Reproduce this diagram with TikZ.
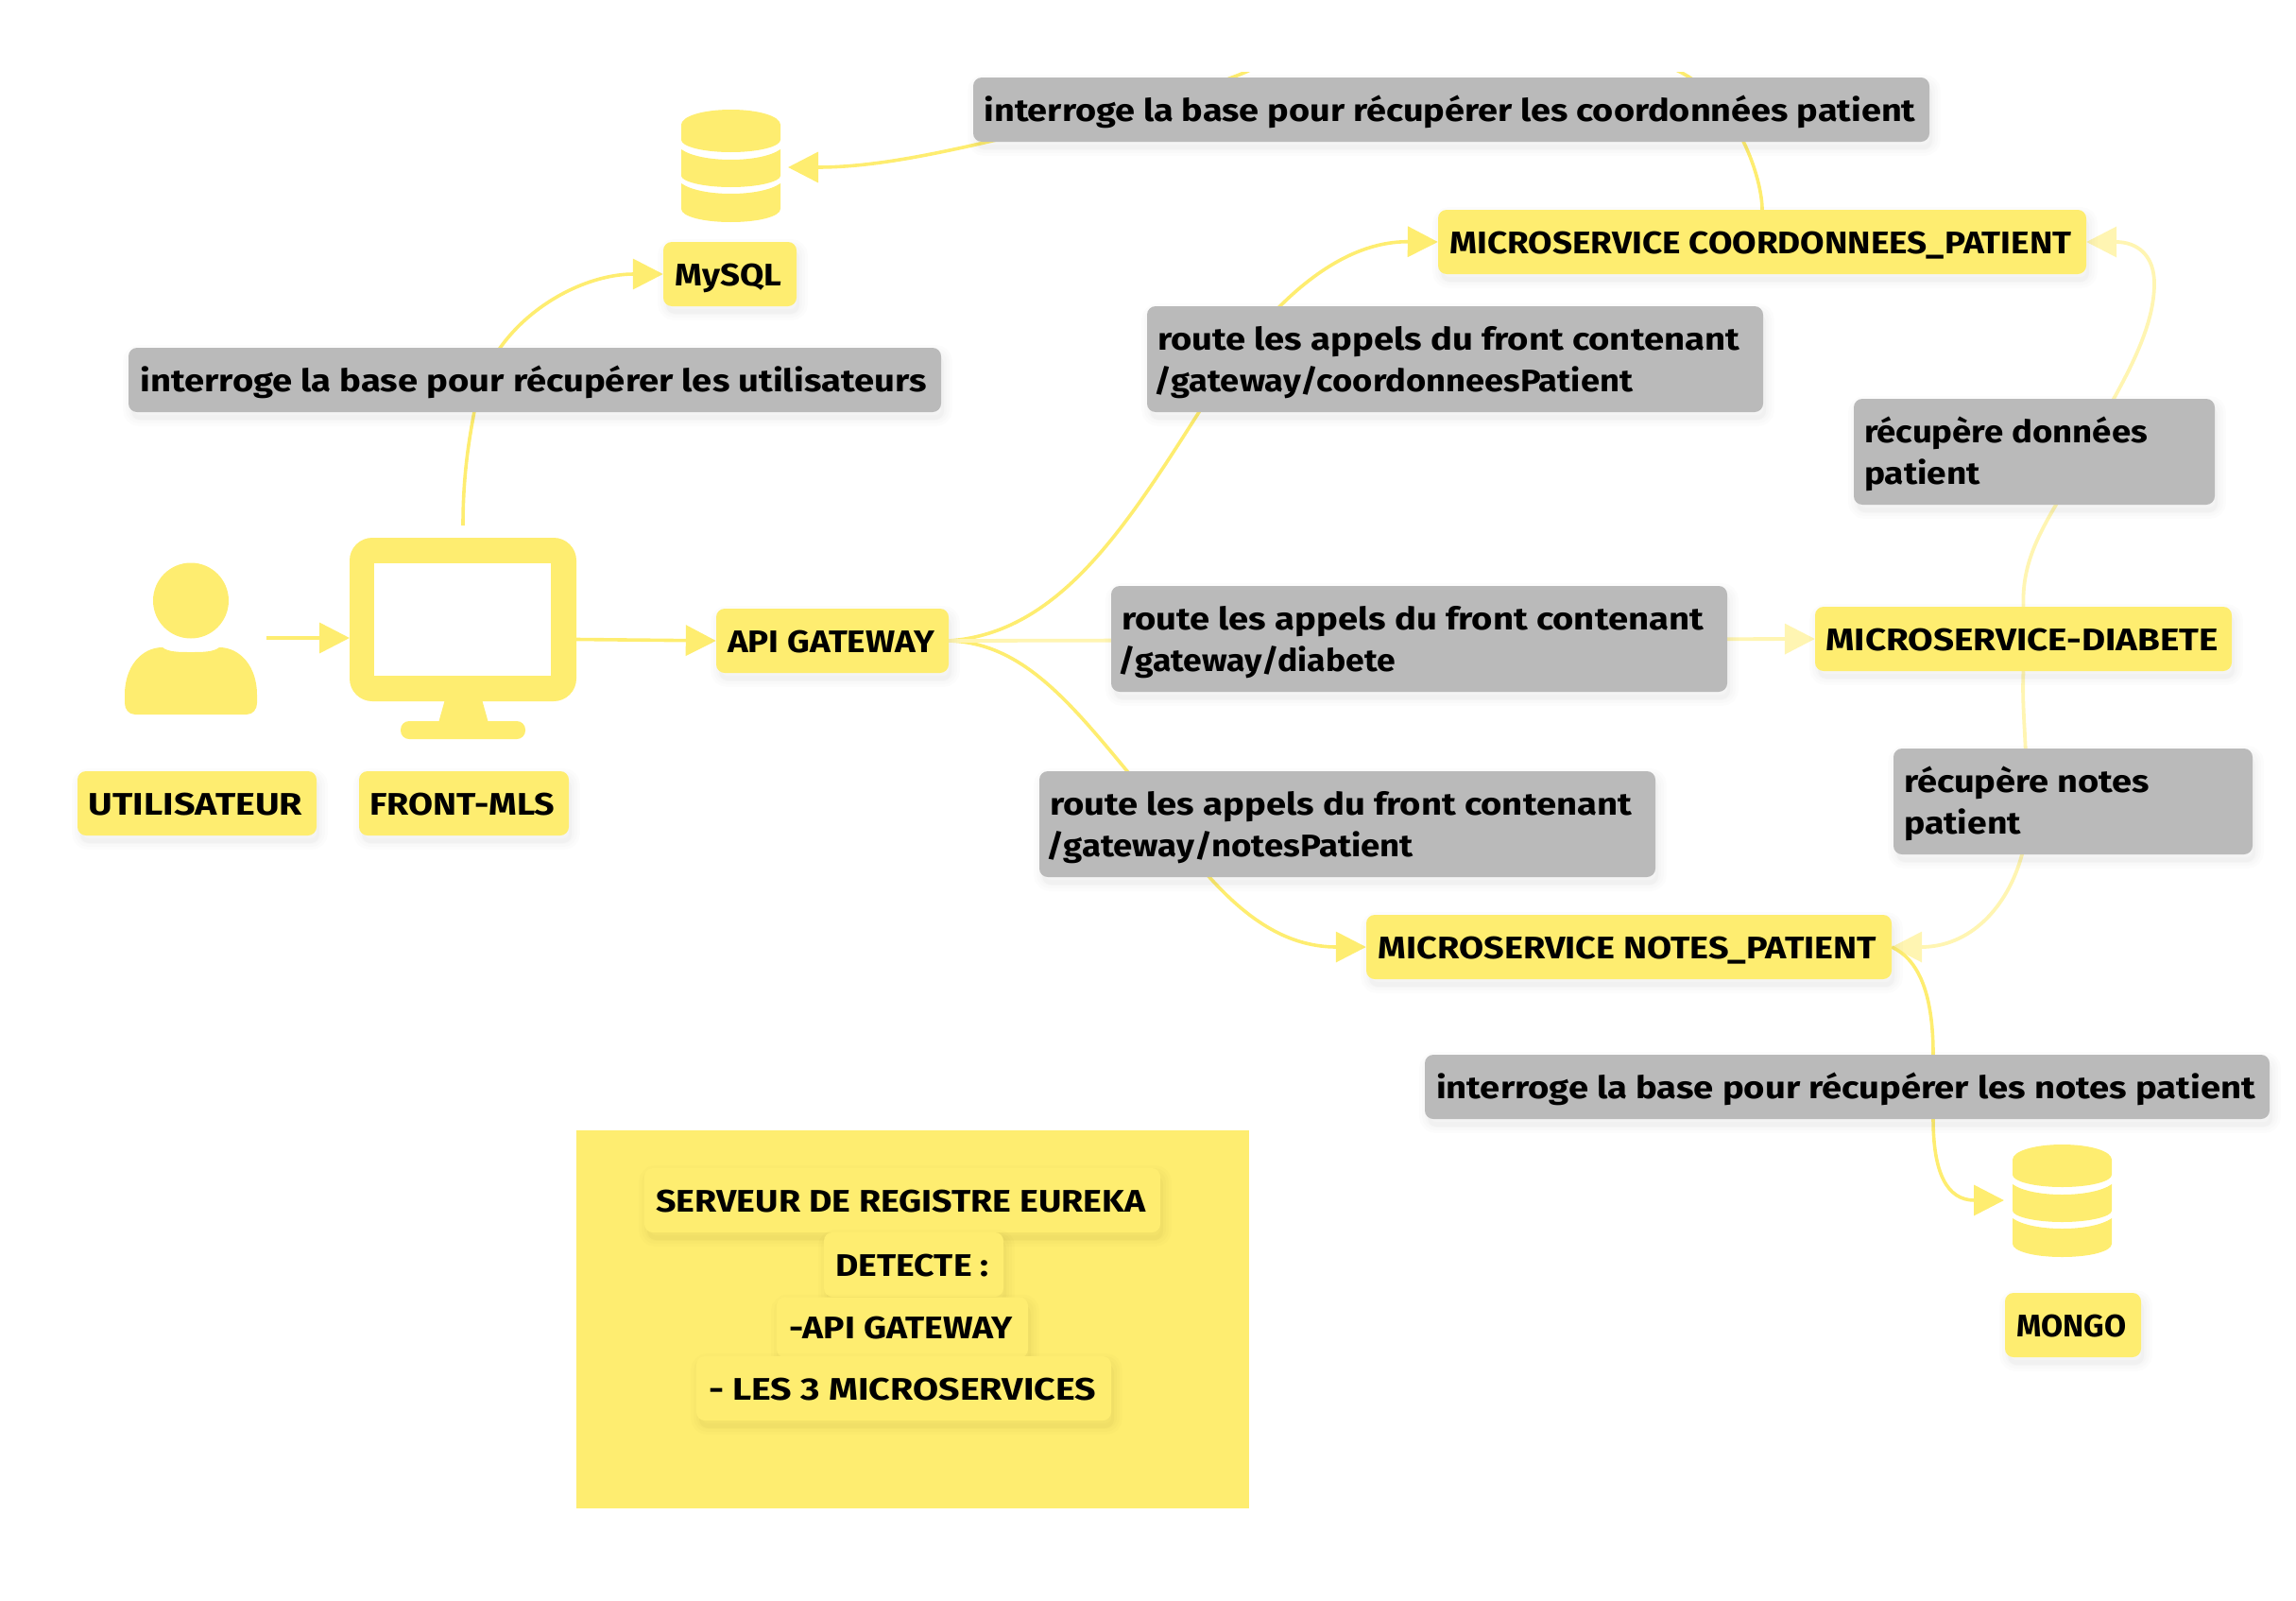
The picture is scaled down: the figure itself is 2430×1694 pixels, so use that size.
\documentclass[tikz,border=0pt]{standalone}
\usepackage{fontspec}
\setmainfont{Fira Sans}
\usetikzlibrary{arrows.meta,shadows}
\pgfdeclarelayer{back}
\pgfsetlayers{back,main}
\definecolor{yel}{HTML}{FEED70}
\definecolor{yellight}{HTML}{FFF5B2}
\definecolor{gry}{HTML}{BABABA}
\newcommand\fit[2]{\resizebox{#1pt}{\height}{#2}\kern3pt}
\newcommand\twol[5]{\makebox[#1pt][l]{\vbox{\baselineskip=44pt\hbox{\fit{#2}{#3}}\hbox{\fit{#4}{#5}}}}}
\tikzset{
  softshade/.style={
    drop shadow={shadow xshift=3pt,shadow yshift=-8pt,opacity=.02,fill=black,draw=none},
    drop shadow={shadow xshift=3pt,shadow yshift=-6pt,opacity=.012,fill=none,draw=black,line width=6pt},
    drop shadow={shadow xshift=3pt,shadow yshift=-6pt,opacity=.012,fill=none,draw=black,line width=12pt},
    drop shadow={shadow xshift=3pt,shadow yshift=-6pt,opacity=.012,fill=none,draw=black,line width=18pt}},
  basebox/.style={rounded corners=9pt,inner sep=0pt,text=black,softshade,
    font=\fontsize{33}{40}\selectfont\bfseries,text height=30pt,text depth=6pt},
  ybox/.style={basebox,fill=yel},
  gbox/.style={basebox,fill=gry},
  gboxtwo/.style={gbox,text height=74pt,text depth=6pt},
  icon/.style={inner sep=0pt,outer sep=0pt},
  conn/.style={draw=yel,line width=3.6pt,-{Triangle[length=32pt,width=32pt]}},
  connlight/.style={draw=yellight,line width=3.8pt,-{Triangle[length=32pt,width=32pt]}}
}
\newcommand\dbicon[2]{%
  \begin{scope}[shift={(#1,#2)}]
    \fill[yel] (0,16) .. controls (0,7) and (23,0) .. (52.5,0) .. controls (82,0) and (105,7) .. (105,16)
      -- (105,32) .. controls (105,39) and (82,45) .. (52.5,45) .. controls (23,45) and (0,39) .. (0,32) -- cycle;
    \fill[yel] (0,42) .. controls (10,49) and (30,53) .. (52.5,53) .. controls (75,53) and (95,49) .. (105,42)
      -- (105,70) .. controls (105,76) and (82,82) .. (52.5,82) .. controls (23,82) and (0,76) .. (0,70) -- cycle;
    \fill[yel] (0,78) .. controls (10,85) and (30,89) .. (52.5,89) .. controls (75,89) and (95,85) .. (105,78)
      -- (105,105) .. controls (105,113) and (82,119) .. (52.5,119) .. controls (23,119) and (0,113) .. (0,105) -- cycle;
  \end{scope}}
\begin{document}
\begin{tikzpicture}[x=1pt,y=-1pt]
\useasboundingbox (0,0) rectangle (2430,1694);

% Eureka panel
\fill[yel] (610,1196) rectangle (1322,1596);

% icons
\dbicon{721}{116}
\dbicon{2130}{1211}
\node[icon,minimum width=113pt,minimum height=119pt] (dbmysql) at (777.5,177) {};
\node[icon,minimum width=114pt,minimum height=119pt] (dbmongo) at (2178,1270) {};
\node[icon,minimum width=240pt,minimum height=173pt] (front) at (490,655.5) {};
\fill[yel,rounded corners=24pt] (front.north west) rectangle (front.south east);
\fill[white] (396,596) rectangle (583,715);
\fill[yel] (471,740) -- (510,740) -- (517,765) -- (464,765) -- cycle;
\fill[yel,rounded corners=9pt] (424,763) rectangle (556,782);
\fill[yel] (202,635.5) ellipse [x radius=40,y radius=40];
\fill[yel] (143,756) .. controls (136,756) and (132,750) .. (132,744) -- (132,735)
  .. controls (132,705) and (150,685) .. (172,685) .. controls (178,690) and (190,690) .. (202,690)
  .. controls (214,690) and (226,690) .. (232,685) .. controls (254,685) and (272,705) .. (272,735)
  -- (272,744) .. controls (272,750) and (268,756) .. (261,756) -- cycle;

% free ends
\coordinate (userout) at (282,675);
\coordinate (frontin) at (370,675);
\coordinate (frontout) at (610,676.5);
\coordinate (fronttop) at (490,556);

% yellow nodes
\node[ybox,minimum width=253pt,minimum height=68pt] (user) at (208.5,850) {\fit{226}{UTILISATEUR}};
\node[ybox,minimum width=222pt,minimum height=68pt] (frontlabel) at (491,850) {\fit{196}{FRONT-MLS}};
\node[ybox,minimum width=246pt,minimum height=68pt] (api) at (881,678) {\fit{219}{API GATEWAY}};
\node[ybox,minimum width=141pt,minimum height=68pt] (mysql) at (772.5,290) {\fit{113}{MySQL}};
\node[ybox,minimum width=686pt,minimum height=68pt] (mscoord) at (1865,256) {\fit{658}{MICROSERVICE COORDONNEES\_PATIENT}};
\node[ybox,minimum width=441pt,minimum height=68pt] (msdia) at (2141.5,676) {\fit{415}{MICROSERVICE-DIABETE}};
\node[ybox,minimum width=556pt,minimum height=68pt] (msnotes) at (1724,1002) {\fit{527}{MICROSERVICE NOTES\_PATIENT}};
\node[ybox,minimum width=144pt,minimum height=68pt] (mongo) at (2194,1402) {\fit{116}{MONGO}};

% grey nodes
\node[gbox,minimum width=860pt,minimum height=68pt] (qusers) at (566,402) {\fit{832}{interroge la base pour récupérer les utilisateurs}};
\node[gbox,minimum width=1012pt,minimum height=68pt] (qcoord) at (1536,116) {\fit{986}{interroge la base pour récupérer les coordonnées patient}};
\node[gbox,minimum width=894pt,minimum height=68pt] (qnotes) at (1955,1150) {\fit{867}{interroge la base pour récupérer les notes patient}};
\node[gboxtwo,minimum width=652pt,minimum height=112pt] (rcoord) at (1540,380) {\twol{630}{616}{route les appels du front contenant}{503}{\kern-3pt/gateway/coordonneesPatient}};
\node[gboxtwo,minimum width=652pt,minimum height=112pt] (rdia) at (1502,676) {\twol{630}{616}{route les appels du front contenant}{290}{\kern-3pt/gateway/diabete}};
\node[gboxtwo,minimum width=652pt,minimum height=112pt] (rnotes) at (1426,872) {\twol{630}{616}{route les appels du front contenant}{385}{\kern-3pt/gateway/notesPatient}};
\node[gboxtwo,minimum width=382pt,minimum height=112pt] (gcoord) at (2153,478) {\twol{360}{300}{récupère données}{123}{patient}};
\node[gboxtwo,minimum width=380pt,minimum height=112pt] (gnotes) at (2194,848) {\twol{358}{260}{récupère notes}{124}{patient}};

% Eureka nodes
\node[ybox,minimum width=546pt,minimum height=68pt] (e1) at (955,1270) {\fit{518}{SERVEUR DE REGISTRE EUREKA}};
\node[ybox,minimum width=190pt,minimum height=68pt] (e2) at (967,1338) {\fit{162}{DETECTE :}};
\node[ybox,minimum width=266pt,minimum height=64pt] (e3) at (955,1404.5) {\fit{237}{-API GATEWAY}};
\node[ybox,minimum width=439pt,minimum height=68pt] (e4) at (956.5,1469) {\fit{410}{- LES 3 MICROSERVICES}};

% connectors, behind the boxes
\begin{pgfonlayer}{back}
\draw[conn] (userout) -- (frontin);
\draw[conn] (frontout) -- (api.west);
\draw[conn] (fronttop) .. controls (490,500) and (497,460) .. (505,420) .. controls (525,340) and (610,290) .. (mysql.west);
\begin{scope}
  \clip (0,76) rectangle (2430,1694);
  \draw[conn] (mscoord.north) .. controls (1865,190) and (1840,108) .. (1778,76)
    .. controls (1700,36) and (1400,36) .. (1319,76)
    .. controls (1250,105) and (1130,130) .. (1046,150)
    .. controls (980,165) and (920,177) .. (dbmysql.east);
\end{scope}
\draw[conn] (api.east) .. controls (1120,670) and (1190,560) .. (1269,436)
  .. controls (1320,352) and (1400,255) .. (mscoord.west);
\draw[conn] (api.east) .. controls (1080,680) and (1130,740) .. (1193,816)
  .. controls (1260,905) and (1320,1002) .. (msnotes.west);
\draw[connlight] (api.east) -- (msdia.west);
\draw[connlight] (msdia.north) .. controls (2140,600) and (2155,570) .. (2176,534)
  .. controls (2215,450) and (2280,370) .. (2280,300) .. controls (2280,270) and (2262,256) .. (mscoord.east);
\draw[connlight] (msdia.south) .. controls (2140,740) and (2143,770) .. (2144,800)
  .. controls (2146,850) and (2145,880) .. (2140,904)
  .. controls (2125,960) and (2085,1002) .. (msnotes.east);
\draw[conn] (msnotes.east) .. controls (2030,1015) and (2046,1050) .. (2046,1116)
  .. controls (2046,1140) and (2046,1160) .. (2046,1184)
  .. controls (2046,1240) and (2060,1270) .. (dbmongo.west);
\end{pgfonlayer}
\end{tikzpicture}
\end{document}
